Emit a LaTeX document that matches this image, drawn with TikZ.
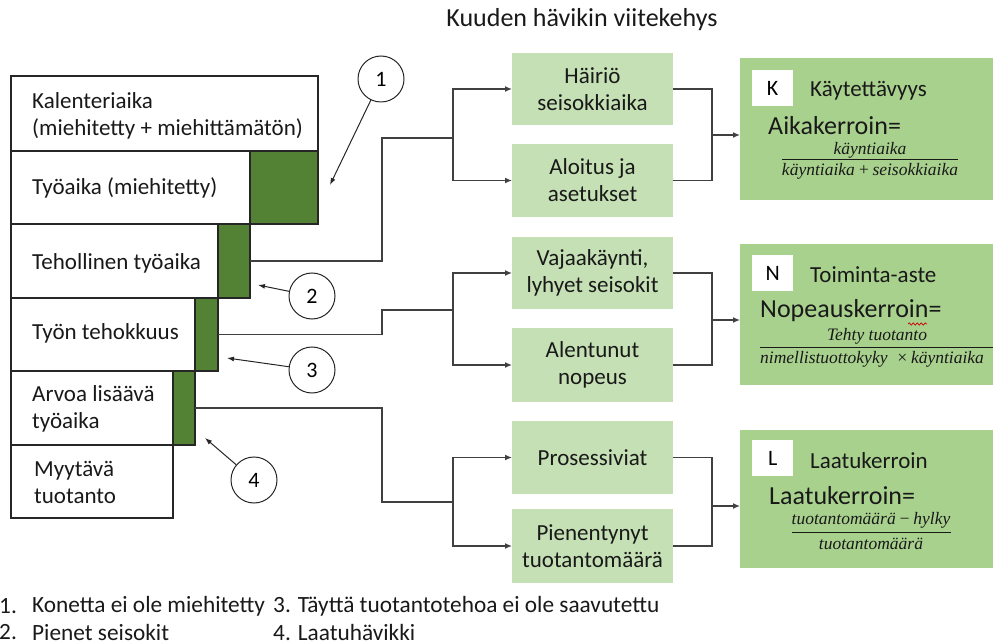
\documentclass[tikz,border=0pt]{standalone}
\usepackage{fontspec}
\setmainfont{Carlito}
\newfontfamily\fracfont{Liberation Serif}
\usetikzlibrary{arrows.meta,decorations.pathmorphing}
\definecolor{dkgreen}{HTML}{548235}
\definecolor{ltgreen}{HTML}{C5E0B4}
\definecolor{mdgreen}{HTML}{A9D18E}
\definecolor{linec}{HTML}{404040}
\tikzset{
  box/.style={draw=black!85, line width=1.1pt, inner sep=0pt, outer sep=0pt, anchor=north west},
  gbox/.style={box, fill=dkgreen},
  txt/.style={font=\fontsize{23}{27}\selectfont, align=left, anchor=west, inner sep=0pt, text=black!90},
  mbox/.style={fill=ltgreen, minimum width=161pt, inner sep=0pt, outer sep=0pt, anchor=north west,
    font=\fontsize{23}{27}\selectfont, align=center, text=black!90},
  rbox/.style={fill=mdgreen, inner sep=0pt, outer sep=0pt, anchor=north west, minimum width=253pt},
  sq/.style={fill=white, minimum width=41pt, minimum height=36pt, inner sep=0pt, anchor=north west,
    font=\fontsize{22}{26}\selectfont},
  head/.style={font=\fontsize{23}{27}\selectfont, anchor=west, inner sep=0pt, text=black!90},
  big/.style={font=\fontsize{26}{30}\selectfont, anchor=west, inner sep=0pt, text=black!90},
  frac/.style={font=\fracfont\itshape\fontsize{17.5}{20}\selectfont, inner sep=0pt, text=black!90},
  fracbar/.style={draw=black!90, line width=1pt},
  conn/.style={draw=linec, line width=1.3pt},
  arr/.style={conn, -{Latex[length=7pt,width=6pt]}},
  num/.style={circle, draw=black!85, line width=1pt, minimum size=46pt, inner sep=0pt,
    font=\fontsize{22}{26}\selectfont},
  pointer/.style={draw=black!85, line width=1pt, -{Latex[length=7pt,width=5pt]}},
  legend/.style={font=\fontsize{23.3}{27}\selectfont, anchor=west, inner sep=0pt, text=black!90},
}
\begin{document}
\begin{tikzpicture}[x=1pt,y=-1pt]
\useasboundingbox (0,0) rectangle (993,644);

% title
\node[font=\fontsize{26}{30}\selectfont, text=black!90] (title) at (582,20) {Kuuden hävikin viitekehys};

% left stacked boxes
\node[box, minimum width=307pt, minimum height=75pt] (kal) at (11,76) {};
\node[box, minimum width=239pt, minimum height=73pt] (tyo) at (11,151) {};
\node[gbox, minimum width=68pt, minimum height=73pt] (g1) at (250,151) {};
\node[box, minimum width=207pt, minimum height=74pt] (teh) at (11,224) {};
\node[gbox, minimum width=32pt, minimum height=74pt] (g2) at (218,224) {};
\node[box, minimum width=184pt, minimum height=73pt] (tte) at (11,298) {};
\node[gbox, minimum width=23pt, minimum height=73pt] (g3) at (195,298) {};
\node[box, minimum width=162pt, minimum height=74pt] (arv) at (11,371) {};
\node[gbox, minimum width=22pt, minimum height=74pt] (g4) at (173,371) {};
\node[box, minimum width=162pt, minimum height=73pt] (myy) at (11,445) {};

\node[txt] (kalT) at (32,116) {Kalenteriaika\\(miehitetty + miehittämätön)};
\node[txt] (tyoT) at (32,188) {Työaika (miehitetty)};
\node[txt] (tehT) at (32,263) {Tehollinen työaika};
\node[txt] (tteT) at (32,333) {Työn tehokkuus};
\node[txt] (arvT) at (32,409) {Arvoa lisäävä\\työaika};
\node[txt] (myyT) at (34,482) {Myytävä\\tuotanto};

% middle boxes
\node[mbox, minimum height=72pt] (hai) at (512,53) {Häiriö\\seisokkiaika};
\node[mbox, minimum height=73pt] (ali) at (512,144) {Aloitus ja\\asetukset};
\node[mbox, minimum height=72pt] (vaj) at (512,237) {Vajaakäynti,\\lyhyet seisokit};
\node[mbox, minimum height=74pt] (ale) at (512,328) {Alentunut\\nopeus};
\node[mbox, minimum height=73pt] (pro) at (512,421) {Prosessiviat};
\node[mbox, minimum height=74pt] (pie) at (512,509) {Pienentynyt\\tuotantomäärä};

% right boxes
\node[rbox, minimum height=142pt] (K) at (740,58) {};
\node[rbox, minimum height=141pt] (N) at (740,244) {};
\node[rbox, minimum height=138pt] (L) at (740,430) {};

\node[sq] (Ksq) at (752,70) {K};
\node[sq] (Nsq) at (752,255) {N};
\node[sq] (Lsq) at (752,440) {L};

\node[head] (Kh) at (810,91) {Käytettävyys};
\node[head] (Nh) at (810,275) {Toiminta-aste};
\node[head] (Lh) at (810,461) {Laatukerroin};

\node[big] (Kb) at (768,126) {Aikakerroin=};
\node[big] (Nb) at (760,311) {Nopeauskerroin=};
\node[big] (Lb) at (769,496) {Laatukerroin=};

% fractions
\node[frac] (Knum) at (870,150) {käyntiaika};
\node[frac] (Kden) at (870,171) {käyntiaika\,+\,seisokkiaika};
\coordinate (Kbar) at (870,160);
\draw[fracbar] (Kden.west |- Kbar) -- (Kden.east |- Kbar);

\node[frac] (Nnum) at (877,336) {Tehty tuotanto};
\node[frac, anchor=west] (Nden) at (760,359) {nimellistuottokyky\ \ ×\,käyntiaika};
\coordinate (Nbar) at (877,347);
\draw[fracbar] (Nden.west |- Nbar) -- (993,347);

\node[frac] (Lnum) at (871,520) {tuotantomäärä\,−\,hylky};
\node[frac] (Lden) at (871,544) {tuotantomäärä};
\coordinate (Lbar) at (871,532);
\draw[fracbar] (Lnum.west |- Lbar) -- (Lnum.east |- Lbar);

% spell-check squiggle
\coordinate (sqA) at (908,324);
\coordinate (sqB) at (927,324);
\draw[red!80!black, line width=0.7pt, decorate, decoration={snake, amplitude=1.2pt, segment length=4pt}] (sqA) -- (sqB);

% connectors left -> middle
\coordinate (j1) at (382,138);
\coordinate (s1) at (453,138);
\draw[conn] (g2.east) -- (g2.east -| j1) -- (j1) -- (s1);
\draw[arr] (s1) |- (hai.west);
\draw[arr] (s1) |- (ali.west);

\coordinate (j2) at (382,310);
\coordinate (s2) at (453,310);
\draw[conn] (g3.east) -- (g3.east -| j2) -- (j2) -- (s2);
\draw[arr] (s2) |- (vaj.west);
\draw[arr] (s2) |- (ale.west);

\coordinate (j3) at (382,502);
\coordinate (s3) at (453,502);
\draw[conn] (g4.east) -- (g4.east -| j3) -- (j3) -- (s3);
\draw[arr] (s3) |- (pro.west);
\draw[arr] (s3) |- (pie.west);

% connectors middle -> right
\coordinate (m1) at (712,135);
\draw[conn] (hai.east) -| (m1) |- (ali.east);
\draw[arr] (m1) -- (m1 -| K.west);
\coordinate (m2) at (712,320);
\draw[conn] (vaj.east) -| (m2) |- (ale.east);
\draw[arr] (m2) -- (m2 -| N.west);
\coordinate (m3) at (712,506);
\draw[conn] (pro.east) -| (m3) |- (pie.east);
\draw[arr] (m3) -- (m3 -| L.west);

% numbered circles
\node[num] (c1) at (381,79) {1};
\node[num] (c2) at (312,296) {2};
\node[num] (c3) at (312,370) {3};
\node[num] (c4) at (254,480) {4};
\coordinate (t1) at (330,185);
\coordinate (t2) at (258,285);
\coordinate (t3) at (227,358);
\coordinate (t4) at (205,438);
\draw[pointer] (c1) -- (t1);
\draw[pointer] (c2) -- (t2);
\draw[pointer] (c3) -- (t3);
\draw[pointer] (c4) -- (t4);

% legend
\node[legend] (l1n) at (-1,606) {1.};
\node[legend] (l1) at (32,606) {Konetta ei ole miehitetty};
\node[legend] (l3) at (273,606) {3. Täyttä tuotantotehoa ei ole saavutettu};
\node[legend] (l2n) at (-1,632) {2.};
\node[legend] (l2) at (32,632) {Pienet seisokit};
\node[legend] (l4) at (273,632) {4. Laatuhävikki};
\end{tikzpicture}
\end{document}
